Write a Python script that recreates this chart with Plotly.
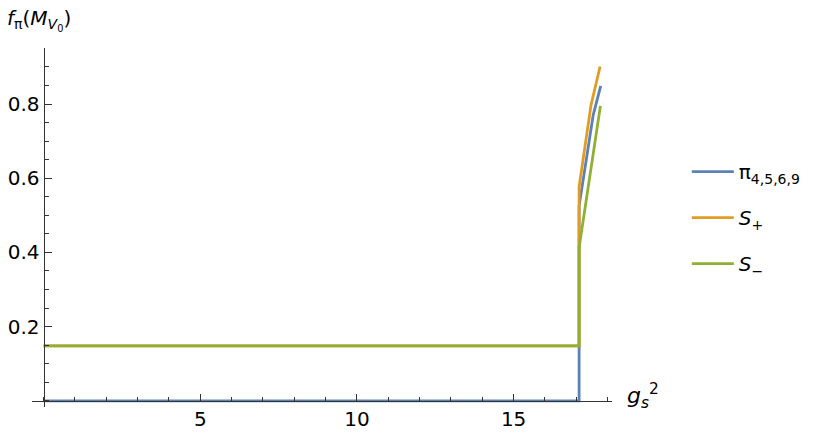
import plotly.graph_objects as go

# curve data (g_s^2 -> f_pi)
g2_pi = [0, 17.09, 17.09, 17.54, 17.78]
f_pi = [0, 0, 0.525, 0.770, 0.849]

g2_splus = [0, 17.09, 17.09, 17.47, 17.76]
f_splus = [0.148, 0.148, 0.577, 0.797, 0.901]

g2_sminus = [0, 17.09, 17.09, 17.40, 17.55, 17.77]
f_sminus = [0.148, 0.148, 0.413, 0.590, 0.676, 0.795]

x_ticks = [5, 10, 15]
y_ticks = [0.2, 0.4, 0.6, 0.8]

names = ["π<sub>4,5,6,9</sub>", "<i>S</i><sub>+</sub>", "<i>S</i><sub>−</sub>"]
colors = ["#5E81B5", "#E19C24", "#8FB032"]

FONT = "DejaVu Sans"
AXIS = "#333333"

fig = go.Figure()
for i, (xs, ys) in enumerate([(g2_pi, f_pi), (g2_splus, f_splus), (g2_sminus, f_sminus)]):
    fig.add_trace(go.Scatter(
        x=xs, y=ys, mode="lines", name=names[i], legendgroup=str(i),
        line=dict(color=colors[i], width=2.8),
    ))

x_range = [-0.37, 18.14]
y_range = [-0.0167, 0.951]

fig.update_layout(
    width=830, height=437,
    margin=dict(l=32, r=218, t=48, b=30, autoexpand=False),
    plot_bgcolor="white", paper_bgcolor="white",
    font=dict(family=FONT, size=20, color="black"),
    showlegend=True,
    legend=dict(
        x=1.129, y=0.71, xanchor="left", yanchor="top",
        font=dict(size=20), tracegroupgap=17, itemwidth=42,
        bgcolor="rgba(0,0,0,0)",
    ),
    xaxis=dict(
        range=x_range, anchor="free", automargin=False,
        position=(0 - y_range[0]) / (y_range[1] - y_range[0]),
        showgrid=False, zeroline=False,
        showline=True, linecolor=AXIS, linewidth=1,
        tickmode="array", tickvals=x_ticks, ticktext=[str(v) for v in x_ticks],
        ticks="inside", ticklen=7, tickcolor=AXIS,
        minor=dict(dtick=1, tick0=0, ticks="inside", ticklen=4, tickcolor=AXIS),
    ),
    yaxis=dict(
        range=y_range, anchor="free", automargin=False,
        position=(0 - x_range[0]) / (x_range[1] - x_range[0]),
        showgrid=False, zeroline=False,
        showline=True, linecolor=AXIS, linewidth=1,
        tickmode="array", tickvals=y_ticks, ticktext=[str(v) for v in y_ticks],
        ticks="inside", ticklen=7, tickcolor=AXIS,
        minor=dict(dtick=0.05, tick0=0, ticks="inside", ticklen=4, tickcolor=AXIS),
    ),
)

fig.add_annotation(
    text="<i>f</i><sub>π</sub>(<i>M</i><sub><i>V</i><sub>0</sub></sub>)",
    xref="paper", yref="paper", x=-0.047, y=1.078,
    xanchor="left", yanchor="middle", showarrow=False,
    font=dict(size=20),
)
fig.add_annotation(
    text="<i>g</i><sub><i>s</i></sub><sup>2</sup>",
    xref="paper", yref="paper", x=1.022, y=0.03,
    xanchor="left", yanchor="middle", showarrow=False,
    font=dict(size=22),
)

# drop the browser's default body margin so the figure sits at the page corner
fig.write_html(
    "out.html",
    config={"displayModeBar": False},
    post_script="document.body.style.margin='0';",
)
